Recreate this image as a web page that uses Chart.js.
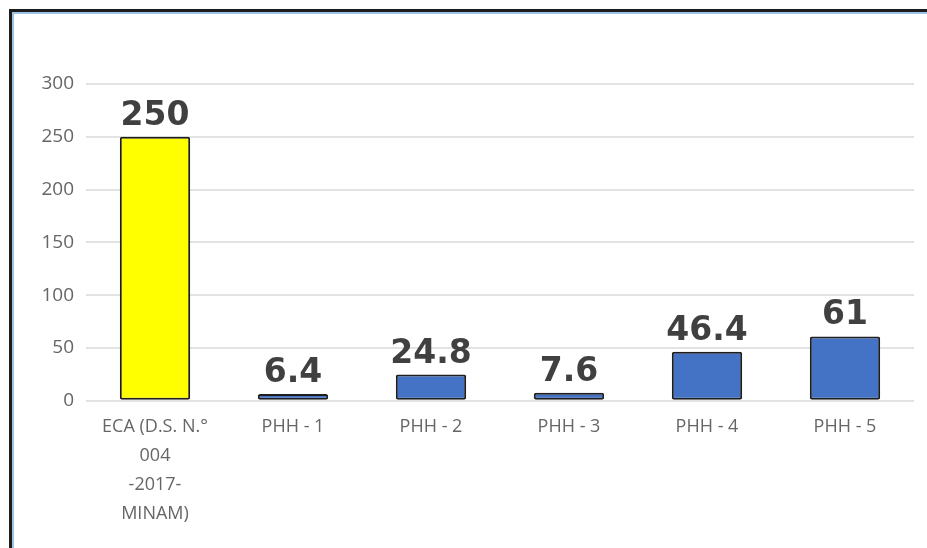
<!DOCTYPE html>
<html>
<head>
<meta charset="utf-8">
<script src="https://cdn.jsdelivr.net/npm/chart.js@4"></script>
<style>
  html, body { margin: 0; padding: 0; background: #fff; }
  body { width: 927px; height: 548px; position: relative; overflow: hidden; }
  #frame {
    position: absolute; left: 9px; top: 9px; width: 940px; height: 560px;
    border-top: 3px solid #1c1c1c; border-left: 3px solid #1c1c1c;
    box-shadow: inset 2px 2px 0 #9cc2e6;
  }
  #chart { position: absolute; left: 0; top: 0; }
</style>
</head>
<body>
<div id="frame"></div>
<canvas id="chart" width="927" height="548"></canvas>
<script>
  // categories and values
  const LABELS = [
    ["ECA (D.S. N.°", "004", "-2017-", "MINAM)"],
    "PHH - 1", "PHH - 2", "PHH - 3", "PHH - 4", "PHH - 5",
  ];
  const VALUES = [250, 6.4, 24.8, 7.6, 46.4, 61];
  const BAR_COLORS = ["#ffff00", "#4472c4", "#4472c4", "#4472c4", "#4472c4", "#4472c4"];

  // value labels above each bar
  const valueLabels = {
    id: "valueLabels",
    afterDatasetsDraw(chart) {
      const { ctx } = chart;
      const meta = chart.getDatasetMeta(0);
      ctx.save();
      ctx.font = "bold 33px 'DejaVu Sans'";
      ctx.fillStyle = "#404040";
      ctx.textAlign = "center";
      ctx.textBaseline = "alphabetic";
      meta.data.forEach((bar, i) => {
        ctx.fillText(String(VALUES[i]), bar.x, bar.y - 12);
      });
      ctx.restore();
    },
  };

  new Chart(document.getElementById("chart"), {
    type: "bar",
    data: {
      labels: LABELS,
      datasets: [{
        data: VALUES,
        backgroundColor: BAR_COLORS,
        borderColor: "#1e1e1e",
        borderWidth: 2,
        borderRadius: 2,
        borderSkipped: false,
        categoryPercentage: 1,
        barPercentage: 0.51,
      }],
    },
    options: {
      responsive: false,
      animation: false,
      layout: { padding: { left: 31, right: 13, top: 84, bottom: 8 } },
      plugins: { legend: { display: false }, tooltip: { enabled: false } },
      scales: {
        x: {
          grid: { display: false, drawTicks: false },
          border: { display: false },
          ticks: {
            color: "#666",
            font: { family: "'Open Sans'", size: 18, lineHeight: 1.6 },
            padding: 12,
            maxRotation: 0,
            autoSkip: false,
          },
        },
        y: {
          min: 0, max: 300,
          afterFit: (s) => { s.width = 55; },
          grid: { color: "#e3e3e3", lineWidth: 2, drawTicks: false },
          border: { display: false },
          ticks: {
            stepSize: 50,
            color: "#666",
            font: { family: "'Open Sans'", size: 19 },
            padding: 12,
          },
        },
      },
    },
    plugins: [valueLabels],
  });
</script>
</body>
</html>
